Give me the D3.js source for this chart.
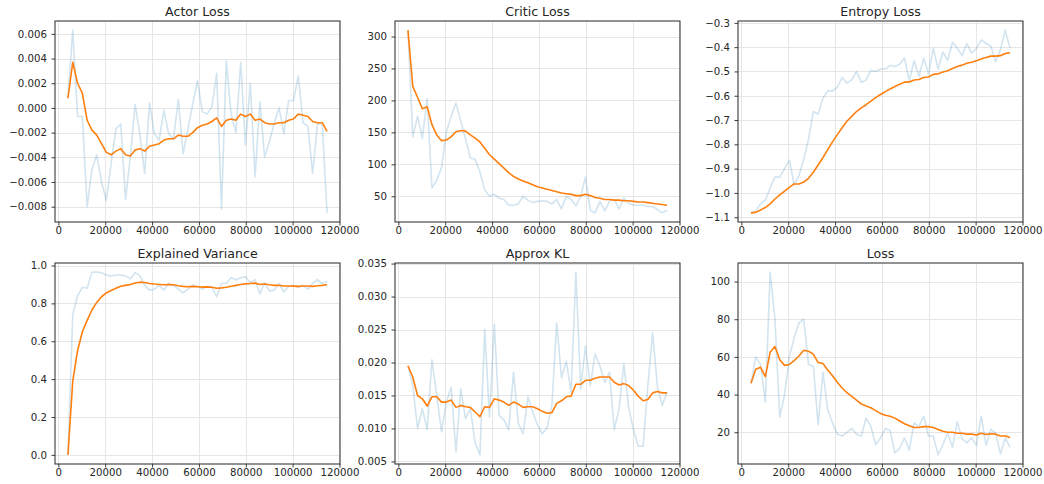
<!DOCTYPE html>
<html>
<head>
<meta charset="utf-8">
<script src="https://cdn.jsdelivr.net/npm/d3@7"></script>
<style>
  html, body { margin: 0; padding: 0; background: #fff; }
  svg { display: block; font-family: "DejaVu Sans", sans-serif; }
</style>
</head>
<body>
<svg id="chart" width="1044" height="484"></svg>
<script>
// ---- data ----
const steps = [4096, 6144, 8192, 10240, 12288, 14336, 16384, 18432, 20480, 22528,
  24576, 26624, 28672, 30720, 32768, 34816, 36864, 38912, 40960, 43008,
  45056, 47104, 49152, 51200, 53248, 55296, 57344, 59392, 61440, 63488,
  65536, 67584, 69632, 71680, 73728, 75776, 77824, 79872, 81920, 83968,
  86016, 88064, 90112, 92160, 94208, 96256, 98304, 100352, 102400, 104448,
  106496, 108544, 110592, 112640, 114688];

const panelTitles = ["Actor Loss", "Critic Loss", "Entropy Loss", "Explained Variance", "Approx KL", "Loss"];

const actorRaw = [0.0008, 0.0063, -0.0007, -0.0007, -0.0080, -0.0050, -0.0038, -0.0060, -0.0075, -0.0045,
  -0.0017, -0.0013, -0.0074, -0.0040, 0.0003, -0.0022, -0.0053, 0.0004, -0.0021, -0.0026,
  -0.0002, -0.0021, -0.0025, 0.0007, -0.0037, -0.0017, 0.0003, 0.0022, -0.0003, -0.0005,
  0.0001, 0.0028, -0.0082, 0.0038, -0.0005, -0.0020, 0.0037, -0.0030, 0.0020, -0.0056,
  0.0005, -0.0040, -0.0027, -0.0012, 0.0000, -0.0021, 0.0006, 0.0006, 0.0026, -0.0012,
  -0.0015, -0.0053, -0.0013, -0.0013, -0.0085];
const actorSmooth = [0.0008, 0.0037, 0.0020, 0.0012, -0.0010, -0.0018, -0.0022, -0.0029, -0.0036, -0.0038,
  -0.0035, -0.0033, -0.0038, -0.0039, -0.0034, -0.0033, -0.0035, -0.0031, -0.0030, -0.0029,
  -0.0026, -0.0025, -0.0025, -0.0022, -0.0023, -0.0023, -0.0020, -0.0016, -0.0014, -0.0013,
  -0.0011, -0.0008, -0.0015, -0.0010, -0.0009, -0.0010, -0.0005, -0.0007, -0.0005, -0.0010,
  -0.0009, -0.0012, -0.0013, -0.0013, -0.0012, -0.0012, -0.0010, -0.0009, -0.0005, -0.0006,
  -0.0007, -0.0011, -0.0012, -0.0012, -0.0019];

const criticRaw = [310, 143, 175, 141, 203, 63, 75, 95, 150, 175,
  196, 168, 140, 110, 108, 88, 60, 50, 53, 47,
  45, 36, 36, 38, 50, 44, 40, 42, 43, 42,
  38, 45, 30, 50, 45, 35, 50, 80, 28, 24,
  42, 27, 42, 45, 30, 47, 39, 36, 36, 36,
  34, 34, 29, 24, 28];
const criticSmooth = [310, 222, 205, 187, 190, 162, 146, 137, 138, 143,
  151, 153, 152, 146, 141, 135, 125, 115, 108, 101,
  94, 87, 81, 77, 74, 71, 68, 65, 63, 61,
  59, 57, 55, 54, 53, 51, 51, 53, 51, 48,
  47, 45, 45, 44, 44, 43, 43, 42, 41, 41,
  40, 39, 38, 37, 36];

const entropyRaw = [-1.08, -1.075, -1.045, -1.03, -0.98, -0.935, -0.935, -0.90, -0.865, -0.965,
  -0.93, -0.86, -0.78, -0.665, -0.675, -0.61, -0.58, -0.58, -0.565, -0.525,
  -0.548, -0.535, -0.50, -0.545, -0.535, -0.495, -0.50, -0.49, -0.49, -0.475,
  -0.48, -0.47, -0.445, -0.54, -0.455, -0.52, -0.445, -0.51, -0.405, -0.49,
  -0.42, -0.455, -0.38, -0.405, -0.435, -0.385, -0.425, -0.405, -0.37, -0.385,
  -0.395, -0.46, -0.41, -0.33, -0.405];
const entropySmooth = [-1.082, -1.08, -1.07, -1.06, -1.045, -1.025, -1.008, -0.993, -0.977, -0.963,
  -0.963, -0.955, -0.94, -0.915, -0.885, -0.855, -0.822, -0.79, -0.76, -0.732,
  -0.705, -0.685, -0.665, -0.65, -0.637, -0.622, -0.608, -0.595, -0.583, -0.572,
  -0.562, -0.553, -0.544, -0.543, -0.535, -0.533, -0.525, -0.523, -0.512, -0.51,
  -0.502, -0.497, -0.488, -0.48, -0.474, -0.466, -0.462, -0.456, -0.449, -0.443,
  -0.437, -0.437, -0.435, -0.426, -0.423];

const evRaw = [0.0, 0.74, 0.84, 0.885, 0.88, 0.965, 0.965, 0.962, 0.95, 0.945,
  0.95, 0.95, 0.945, 0.93, 0.962, 0.945, 0.895, 0.87, 0.875, 0.895,
  0.87, 0.905, 0.895, 0.875, 0.855, 0.875, 0.895, 0.89, 0.875, 0.89,
  0.885, 0.835, 0.905, 0.905, 0.935, 0.925, 0.935, 0.94, 0.91, 0.925,
  0.85, 0.91, 0.865, 0.87, 0.905, 0.86, 0.89, 0.895, 0.885, 0.895,
  0.875, 0.905, 0.925, 0.905, 0.915];
const evSmooth = [0.0, 0.39, 0.55, 0.65, 0.71, 0.765, 0.805, 0.835, 0.855, 0.868,
  0.88, 0.89, 0.895, 0.9, 0.908, 0.912, 0.91, 0.905, 0.902, 0.9,
  0.898, 0.9, 0.898, 0.893, 0.89, 0.888, 0.89, 0.888, 0.886, 0.887,
  0.885, 0.88, 0.882, 0.885, 0.89, 0.895, 0.9, 0.903, 0.905, 0.907,
  0.9, 0.902, 0.898, 0.895, 0.896, 0.892, 0.892, 0.891, 0.89, 0.892,
  0.892, 0.89, 0.893, 0.895, 0.898];

const klRaw = [0.0195, 0.0165, 0.0100, 0.0130, 0.0098, 0.0204, 0.0150, 0.0095, 0.0140, 0.0162,
  0.0065, 0.0160, 0.0115, 0.0130, 0.0078, 0.0060, 0.0250, 0.0117, 0.0258, 0.0120,
  0.0113, 0.0098, 0.0185, 0.0108, 0.0092, 0.0148, 0.0125, 0.0105, 0.0092, 0.0101,
  0.0135, 0.0260, 0.0177, 0.0202, 0.0155, 0.0337, 0.0160, 0.0225, 0.0165, 0.0213,
  0.0195, 0.0170, 0.0185, 0.0098, 0.0130, 0.0198, 0.0132, 0.0098, 0.0073, 0.0073,
  0.0165, 0.0245, 0.0163, 0.0135, 0.0155];
const klSmooth = [0.0195, 0.0178, 0.0150, 0.0145, 0.0134, 0.0148, 0.0148, 0.0140, 0.0140, 0.0143,
  0.0132, 0.0135, 0.0133, 0.0132, 0.0125, 0.0118, 0.0133, 0.0132, 0.0145, 0.0143,
  0.0140, 0.0135, 0.0140, 0.0137, 0.0132, 0.0133, 0.0133, 0.0130, 0.0126, 0.0123,
  0.0124, 0.0138, 0.0142, 0.0148, 0.0149, 0.0167, 0.0167, 0.0173, 0.0173, 0.0176,
  0.0178, 0.0178, 0.0178, 0.0170, 0.0166, 0.0168, 0.0165, 0.0158, 0.0149, 0.0142,
  0.0144, 0.0154, 0.0156, 0.0154, 0.0154];

const lossRaw = [46, 60, 56, 36, 105, 80, 28, 40, 60, 70,
  78, 80, 56, 55, 24, 52, 32, 25, 19, 18,
  20, 22, 19, 18, 27.5, 23, 13.5, 17, 22, 21,
  9, 11.5, 17, 10.5, 25, 23, 28.5, 18, 18, 8,
  13.5, 19.5, 12, 25.5, 16.5, 14.5, 17, 13, 28.5, 13,
  21.5, 19.5, 8.5, 17, 12];
const lossSmooth = [46, 53.5, 54.5, 49.5, 62.5, 65.5, 58.5, 55.5, 56, 58,
  60.5, 63.5, 63, 61.5, 57, 56.5, 53, 50, 46.5, 43.5,
  41, 39, 37, 35, 34, 33, 31.5, 30, 29, 28.5,
  27.5, 26, 24.5, 23.5, 22.5, 22.5, 23, 23, 22.5, 21.5,
  20.5, 20, 20, 19.5, 19.5, 19, 19, 18.5, 19.5, 18.8,
  19.2, 19, 18, 18, 17.2];

// tick values
const xTicks = [0, 20000, 40000, 60000, 80000, 100000, 120000];
const actorTicks = [-0.008, -0.006, -0.004, -0.002, 0.000, 0.002, 0.004, 0.006];
const criticTicks = [50, 100, 150, 200, 250, 300];
const entropyTicks = [-1.1, -1.0, -0.9, -0.8, -0.7, -0.6, -0.5, -0.4, -0.3];
const evTicks = [0.0, 0.2, 0.4, 0.6, 0.8, 1.0];
const klTicks = [0.005, 0.010, 0.015, 0.020, 0.025, 0.030, 0.035];
const lossTicks = [20, 40, 60, 80, 100];

const panels = [
  { title: panelTitles[0], raw: actorRaw, smooth: actorSmooth, ticks: actorTicks, fmt: ".3f" },
  { title: panelTitles[1], raw: criticRaw, smooth: criticSmooth, ticks: criticTicks, fmt: "d" },
  { title: panelTitles[2], raw: entropyRaw, smooth: entropySmooth, ticks: entropyTicks, fmt: ".1f" },
  { title: panelTitles[3], raw: evRaw, smooth: evSmooth, ticks: evTicks, fmt: ".1f" },
  { title: panelTitles[4], raw: klRaw, smooth: klSmooth, ticks: klTicks, fmt: ".3f" },
  { title: panelTitles[5], raw: lossRaw, smooth: lossSmooth, ticks: lossTicks, fmt: "d" }
];

// ---- layout ----
const colX = [55, 395, 738];
const rowY = [21, 263];
const W = 285, H = 201;
const textColor = "#262626";

const svg = d3.select("#chart");

function padded(lo, hi) {
  const m = (hi - lo) * 0.05;
  return [lo - m, hi + m];
}

panels.forEach((p, k) => {
  const left = colX[k % 3], top = rowY[Math.floor(k / 3)];
  const g = svg.append("g").attr("transform", `translate(${left},${top})`);

  const x = d3.scaleLinear().domain(padded(d3.min(steps), d3.max(steps))).range([0, W]);
  const all = p.raw.concat(p.smooth);
  const y = d3.scaleLinear().domain(padded(d3.min(all), d3.max(all))).range([H, 0]);

  // grid
  const grid = g.append("g").attr("stroke", "#e6e6e6").attr("stroke-width", 1);
  xTicks.forEach(t => {
    const px = Math.round(x(t)) + 0.5;
    grid.append("line").attr("x1", px).attr("x2", px).attr("y1", 0).attr("y2", H);
  });
  p.ticks.forEach(t => {
    const py = Math.round(y(t)) + 0.5;
    grid.append("line").attr("x1", 0).attr("x2", W).attr("y1", py).attr("y2", py);
  });

  const line = d3.line().x((d, i) => x(steps[i])).y(d => y(d));

  g.append("path").datum(p.raw).attr("d", line)
    .attr("fill", "none").attr("stroke", "#1f77b4").attr("stroke-opacity", 0.2)
    .attr("stroke-width", 1.6).attr("stroke-linejoin", "round");
  g.append("path").datum(p.smooth).attr("d", line)
    .attr("fill", "none").attr("stroke", "#ff7f0e")
    .attr("stroke-width", 1.6).attr("stroke-linejoin", "round");

  // axes
  const xa = g.append("g").attr("transform", `translate(0,${H})`)
    .call(d3.axisBottom(x).tickValues(xTicks).tickFormat(d3.format("d")).tickSize(3.5).tickPadding(1.5).tickSizeOuter(0));
  const ya = g.append("g")
    .call(d3.axisLeft(y).tickValues(p.ticks).tickFormat(d3.format(p.fmt)).tickSize(3.5).tickPadding(4.5).tickSizeOuter(0));
  [xa, ya].forEach(a => {
    a.select(".domain").remove();
    a.selectAll("line").attr("stroke", textColor).attr("stroke-width", 0.9);
    a.selectAll("text").attr("fill", textColor).style("font-size", "10.2px").style("font-family", "DejaVu Sans, sans-serif");
  });

  // frame
  g.append("rect").attr("x", 0).attr("y", 0).attr("width", W).attr("height", H)
    .attr("fill", "none").attr("stroke", textColor).attr("stroke-width", 1);

  g.append("text").attr("x", W / 2).attr("y", -5.5)
    .attr("text-anchor", "middle").attr("fill", textColor)
    .style("font-size", "12.6px").text(p.title);
});
</script>
</body>
</html>
